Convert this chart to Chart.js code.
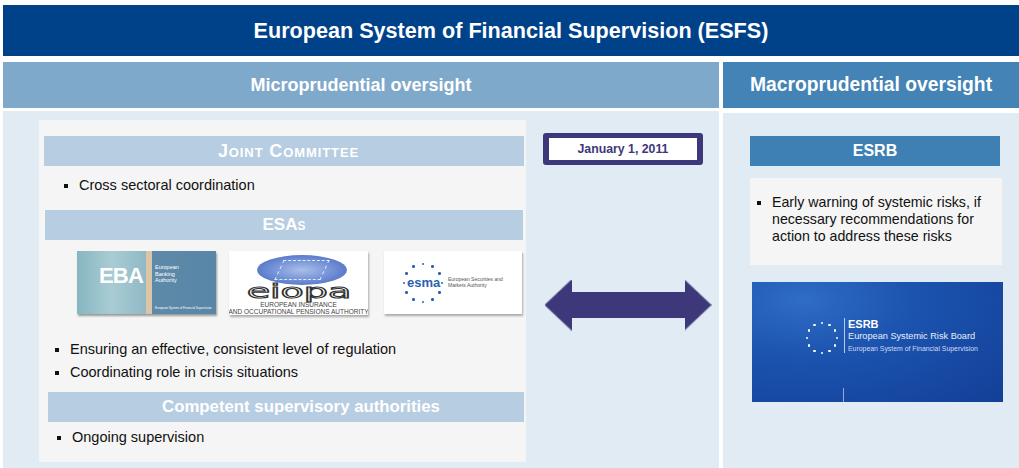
<!DOCTYPE html>
<html>
<head>
<meta charset="utf-8">
<script src="https://cdn.jsdelivr.net/npm/chart.js@4.4.1/dist/chart.umd.min.js"></script>
<style>
  body { margin: 0; width: 1019px; height: 468px; background: #fff; font-family: "Liberation Sans", Arial, sans-serif; position: relative; overflow: hidden; }
  .abs { position: absolute; box-sizing: border-box; }
  .center { display: flex; align-items: center; justify-content: center; color: #fff; font-weight: bold; }
  .bar { background: #b7cde1; font-size: 16px; }
  .li { position: absolute; font-size: 14.5px; color: #111; white-space: nowrap; }
  .li::before { content: ""; position: absolute; left: -15px; top: 7px; width: 4px; height: 4px; background: #111; }
  .tiny { position: absolute; font-size: 5px; line-height: 6px; color: #fff; white-space: nowrap; }
</style>
</head>
<body>

<div class="abs center" style="left:3px;top:5px;width:1016px;height:51px;background:#00428a;font-size:21.6px;">European System of Financial Supervision (ESFS)</div>
<div class="abs center" style="left:3px;top:62px;width:716px;height:46px;background:#7fa9cb;font-size:18px;">Microprudential oversight</div>
<div class="abs center" style="left:723px;top:62px;width:296px;height:46px;background:#4383b5;font-size:19.3px;">Macroprudential oversight</div>

<div class="abs" style="left:3px;top:111px;width:716px;height:357px;background:#e1ebf4;"></div>
<div class="abs" style="left:723px;top:113px;width:296px;height:355px;background:#e1ebf4;"></div>

<!-- micro box -->
<div class="abs" style="left:39px;top:120px;width:487px;height:342px;background:#f5f5f5;"></div>
<div class="abs center bar" style="left:44px;top:136px;width:480px;height:30px;padding-left:9px;font-variant:small-caps;font-size:18px;letter-spacing:0.9px;">Joint Committee</div>
<div class="li" style="left:79px;top:177px;">Cross sectoral coordination</div>
<div class="abs center bar" style="left:45px;top:210px;width:478px;height:30px;font-variant:small-caps;font-size:17px;">ESAs</div>

<!-- EBA logo -->
<div class="abs" style="left:77px;top:251px;width:139px;height:63px;background:linear-gradient(90deg,#86b6c2 0%,#a9ccd3 25%,#8fb9c6 50%,#dcc4a6 50%,#dcc4a6 54%,#5e8aa9 54%,#5886a6 100%);box-shadow:1px 2px 2px #999;overflow:hidden;">
  <div style="position:absolute;left:22px;top:12px;font-size:22px;letter-spacing:-0.8px;font-weight:bold;color:#fff;">EBA</div>
  <div class="tiny" style="left:78px;top:13px;font-size:5.5px;line-height:6.5px;">European<br>Banking<br>Authority</div>
  <div class="tiny" style="left:78px;top:54px;font-size:3px;">European System of Financial Supervision</div>
</div>
<!-- EIOPA logo -->
<div class="abs" style="left:229px;top:251px;width:139px;height:64px;background:#fff;box-shadow:1px 2px 2px #aaa;overflow:hidden;">
  <div style="position:absolute;left:28px;top:4px;width:90px;height:30px;border-radius:50%;background:radial-gradient(ellipse at center,#aabfe9 0%,#6a8ad3 55%,#3f60b6 100%);"></div>
  <div style="position:absolute;left:50px;top:9px;width:44px;height:18px;border:1px dashed #e4ecfb;transform:skewX(-25deg);"></div>
  <div style="position:absolute;left:10px;top:31px;width:120px;text-align:center;font-size:19px;line-height:19px;color:#fff;-webkit-text-stroke:1px #333;font-family:'DejaVu Sans';transform:scaleX(2);transform-origin:center;">eiopa</div>
  <div style="position:absolute;left:-10px;top:51px;width:159px;text-align:center;font-size:6.5px;line-height:6.5px;color:#444;white-space:nowrap;">EUROPEAN INSURANCE<br>AND OCCUPATIONAL PENSIONS AUTHORITY</div>
</div>
<!-- ESMA logo -->
<div class="abs" id="esma" style="left:384px;top:251px;width:138px;height:63px;background:#fff;box-shadow:1px 2px 2px #aaa;overflow:hidden;">
  <div style="position:absolute;left:23px;top:24px;font-size:13px;font-weight:bold;color:#2b62b0;">esma</div>
  <div style="position:absolute;left:64px;top:25px;font-size:5px;line-height:6px;color:#555;white-space:nowrap;">European Securities and<br>Markets Authority</div>
</div>

<div class="li" style="left:70px;top:341px;">Ensuring an effective, consistent level of regulation</div>
<div class="li" style="left:70px;top:364px;">Coordinating role in crisis situations</div>
<div class="abs center bar" style="left:48px;top:392px;width:476px;height:30px;padding-left:30px;font-size:16.8px;">Competent supervisory authorities</div>
<div class="li" style="left:72px;top:429px;">Ongoing supervision</div>

<!-- date -->
<div class="abs center" style="left:543px;top:133px;width:160px;height:32px;border:5px solid #3d3879;border-left-width:6px;border-right-width:6px;border-radius:3px;background:#fff;color:#3d3879;font-size:12.3px;">January 1, 2011</div>

<!-- arrow (Chart.js) -->
<div class="abs" style="left:540px;top:276px;width:176px;height:58px;"><canvas id="arrow" width="176" height="58"></canvas></div>

<!-- macro -->
<div class="abs center" style="left:750px;top:136px;width:250px;height:30px;background:#3f80b4;font-size:16px;">ESRB</div>
<div class="abs" style="left:750px;top:178px;width:252px;height:87px;background:#f5f5f5;"></div>
<div class="li" style="left:772px;top:194px;font-size:14.2px;line-height:17px;white-space:normal;width:225px;">Early warning of systemic risks, if necessary recommendations for action to address these risks</div>

<!-- ESRB logo -->
<div class="abs" id="esrb" style="left:752px;top:282px;width:251px;height:120px;background:radial-gradient(ellipse at 20% 15%,#2f6dc6 0%,#1b53ae 40%,#133f98 100%);overflow:hidden;">
  <div style="position:absolute;left:92px;top:36px;width:1px;height:35px;background:#b8c9ec;"></div>
  <div style="position:absolute;left:96px;top:36px;font-size:11px;font-weight:bold;color:#fff;">ESRB</div>
  <div style="position:absolute;left:96px;top:49px;font-size:9.2px;color:#e8eefb;white-space:nowrap;">European Systemic Risk Board</div>
  <div style="position:absolute;left:96px;top:63px;font-size:6.9px;color:#d0dcf5;white-space:nowrap;">European System of Financial Supervision</div>
  <div style="position:absolute;left:91px;top:106px;width:1px;height:14px;background:#8fa8de;"></div>
</div>

<script>
// decorative star rings for logos
function starRing(parentId, cx, cy, r, size, color) {
    const parent = document.getElementById(parentId);
    for (let i = 0; i < 12; i++) {
        const a = i * Math.PI / 6;
        const s = document.createElement("div");
        s.style.cssText = `position:absolute;left:${cx + r * Math.sin(a) - size / 2}px;top:${cy - r * Math.cos(a) - size / 2}px;width:${size}px;height:${size}px;border-radius:50%;background:${color};`;
        parent.appendChild(s);
    }
}
starRing("esma", 39, 32, 19, 2.5, "#2b62b0");
starRing("esrb", 70, 56, 15, 2.5, "#ffffff");

// Arrow between the two pillars
const arrowX = [18, 158];
const arrowY = [0, 0];
const arrowColor = "#3d3879";

function headImage(dir) {
    const c = document.createElement("canvas");
    c.width = 27; c.height = 51;
    const g = c.getContext("2d");
    g.fillStyle = arrowColor;
    g.beginPath();
    if (dir < 0) { g.moveTo(0, 25.5); g.lineTo(27, 0); g.lineTo(27, 51); }
    else { g.moveTo(27, 25.5); g.lineTo(0, 0); g.lineTo(0, 51); }
    g.closePath();
    g.fill();
    return c;
}

new Chart(document.getElementById("arrow"), {
    type: "scatter",
    data: {
        datasets: [{
            data: arrowX.map((x, i) => ({ x: x, y: arrowY[i] })),
            showLine: true,
            borderColor: arrowColor,
            backgroundColor: arrowColor,
            borderWidth: 26,
            pointStyle: [headImage(-1), headImage(1)],
            pointRadius: 13,
            pointHoverRadius: 13,
            clip: false
        }]
    },
    options: {
        responsive: false,
        animation: false,
        events: [],
        layout: { padding: 0, autoPadding: false },
        plugins: { legend: { display: false }, tooltip: { enabled: false } },
        scales: {
            x: { type: "linear", min: 0, max: 176, display: false },
            y: { type: "linear", min: -1, max: 1, display: false }
        }
    }
});
</script>
</body>
</html>
